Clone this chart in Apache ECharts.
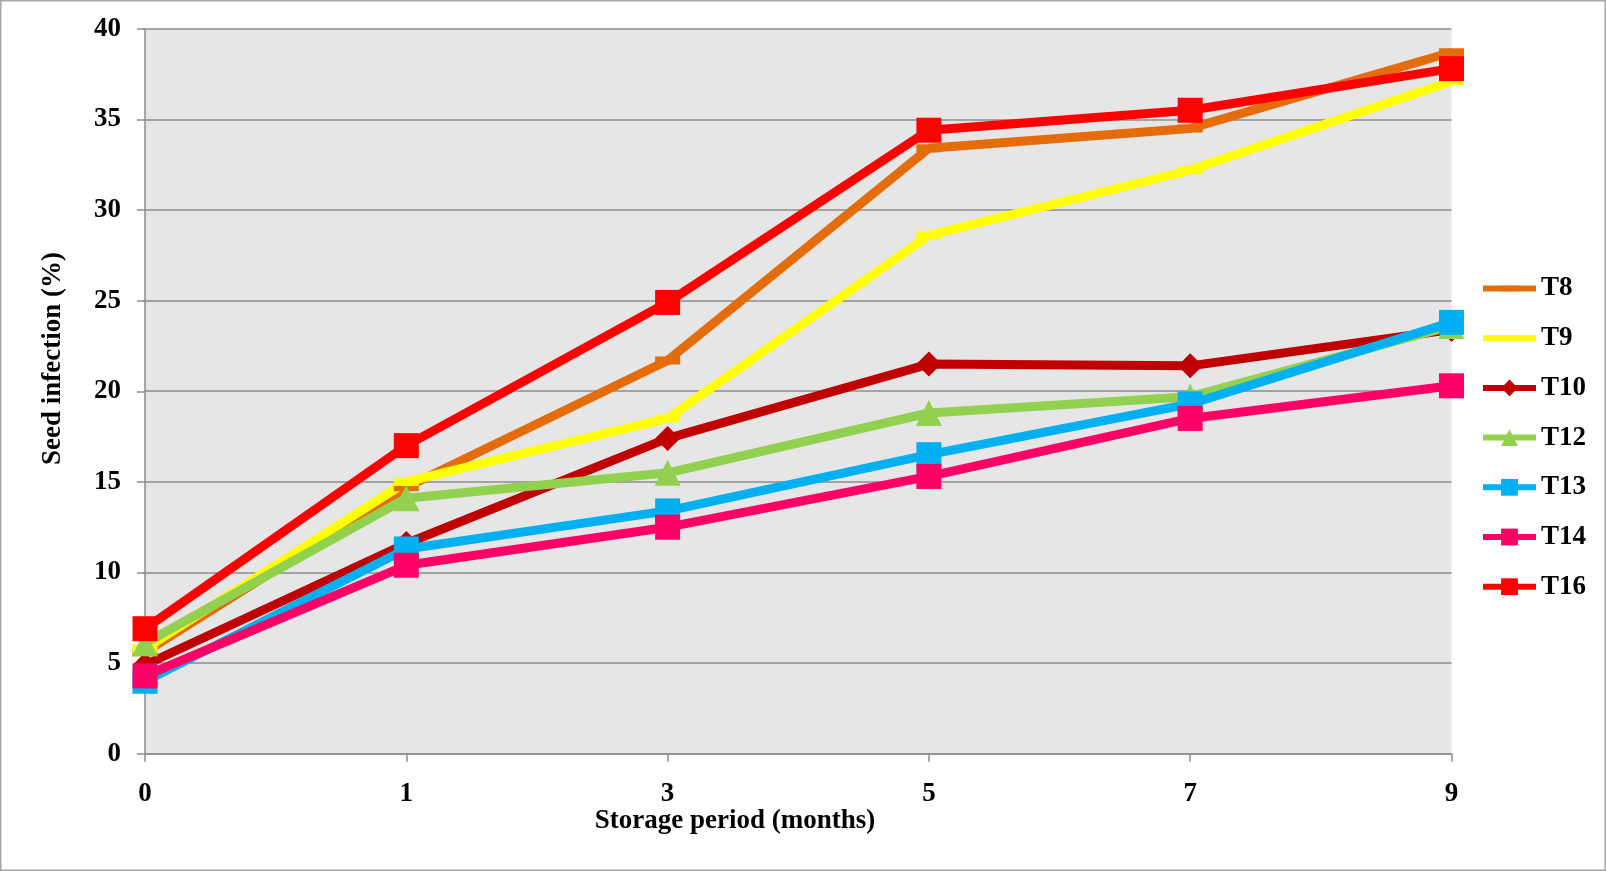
<!DOCTYPE html>
<html>
<head>
<meta charset="utf-8">
<script src="https://cdn.jsdelivr.net/npm/echarts@6/dist/echarts.min.js"></script>
<style>
  html, body { margin: 0; padding: 0; background: #fff; }
  #chart { width: 1606px; height: 871px; }
</style>
</head>
<body>
<div id="chart"></div>
<script>
// Storage period categories (months)
const months = ['0', '1', '3', '5', '7', '9'];

// Seed infection (%) per treatment
const T8  = [5.6, 14.7, 21.7, 33.4, 34.5, 38.7];
const T9  = [5.8, 15.0, 18.5, 28.6, 32.2, 37.1];
const T10 = [4.9, 11.6, 17.4, 21.5, 21.4, 23.4];
const T12 = [6.1, 14.1, 15.5, 18.8, 19.7, 23.6];
const T13 = [4.0, 11.3, 13.4, 16.5, 19.3, 23.8];
const T14 = [4.3, 10.4, 12.5, 15.3, 18.5, 20.3];
const T16 = [6.9, 17.0, 24.9, 34.4, 35.5, 37.8];

const yTicks = { min: 0, max: 40, step: 5 };

const FONT = '"Liberation Serif", "Times New Roman", serif';

// Short horizontal dash marker inside a square box (tiny corner specks keep the box square)
const DASH = 'path://M0,0 L0.01,0 L0,0.01 Z M25,25 L24.99,25 L25,24.99 Z M0,8.5 L25,8.5 L25,16.5 L0,16.5 Z';

function line(name, data, color, symbol, size) {
  return {
    name: name,
    type: 'line',
    data: data,
    clip: false,
    symbol: symbol,
    symbolSize: size,
    showAllSymbol: true,
    lineStyle: { color: color, width: 9 },
    itemStyle: { color: color, borderWidth: 0 },
    emphasis: { disabled: true }
  };
}

const chart = echarts.init(document.getElementById('chart'), null, { renderer: 'canvas' });

chart.setOption({
  animation: false,
  backgroundColor: '#ffffff',
  textStyle: { fontFamily: FONT },
  grid: {
    left: 145, top: 28.7, right: 154.5, bottom: 117.2,
    show: true, backgroundColor: '#e6e6e6', borderWidth: 0
  },
  legend: {
    orient: 'vertical',
    left: 1475, top: 270,
    itemWidth: 53, itemHeight: 21, itemGap: 22.7,
    lineStyle: { width: 6 },
    textStyle: { fontFamily: FONT, fontWeight: 'bold', fontSize: 27, color: '#000', lineHeight: 21 },
    data: ['T8', 'T9', 'T10', 'T12', 'T13', 'T14', 'T16']
  },
  xAxis: {
    type: 'category',
    data: months,
    boundaryGap: false,
    axisLine: { lineStyle: { color: '#8c8c8c', width: 1.5 } },
    axisTick: { show: true, length: 8, alignWithLabel: true, lineStyle: { color: '#8c8c8c', width: 1.5 } },
    axisLabel: { margin: 27, fontFamily: FONT, fontWeight: 'bold', fontSize: 27, color: '#000' },
    splitLine: { show: false }
  },
  yAxis: {
    type: 'value',
    min: yTicks.min, max: yTicks.max, interval: yTicks.step,
    axisLine: { show: true, lineStyle: { color: '#8c8c8c', width: 1.5 } },
    axisTick: { show: true, length: 8, lineStyle: { color: '#8c8c8c', width: 1.5 } },
    axisLabel: { margin: 24, fontFamily: FONT, fontWeight: 'bold', fontSize: 27, color: '#000' },
    splitLine: { show: true, lineStyle: { color: '#8c8c8c', width: 1.5 } }
  },
  graphic: [
    {
      type: 'rect', silent: true, z: -1,
      shape: { x: 0.75, y: 0.75, width: 1604.5, height: 869.5 },
      style: { fill: 'none', stroke: '#a6a6a6', lineWidth: 1.5 }
    },
    {
      type: 'text', silent: true,
      x: 735, y: 821,
      style: {
        text: 'Storage period (months)',
        font: 'bold 27px ' + FONT, fill: '#000',
        align: 'center', verticalAlign: 'middle'
      }
    },
    {
      type: 'text', silent: true,
      x: 53, y: 358.6, rotation: Math.PI / 2,
      style: {
        text: 'Seed infection (%)',
        font: 'bold 27px ' + FONT, fill: '#000',
        align: 'center', verticalAlign: 'middle'
      }
    }
  ],
  series: [
    line('T8',  T8,  '#e46c0a', DASH, 25),
    line('T9',  T9,  '#ffff00', DASH, 25),
    line('T10', T10, '#c00000', 'diamond', 25),
    line('T12', T12, '#92d050', 'triangle', 26),
    line('T13', T13, '#00b0f0', 'rect', 25),
    line('T14', T14, '#ff0066', 'rect', 25),
    line('T16', T16, '#ff0000', 'rect', 25)
  ]
});
</script>
</body>
</html>
